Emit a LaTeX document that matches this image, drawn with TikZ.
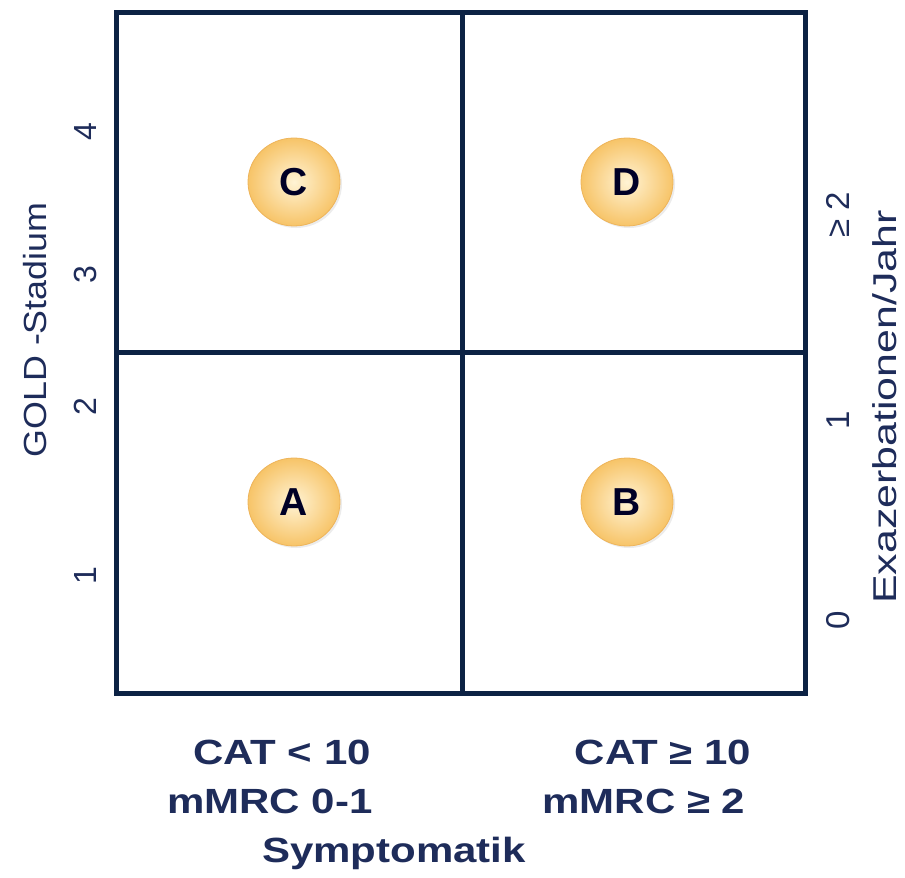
\documentclass[tikz,border=0pt]{standalone}
\usepackage{fontspec}
\setmainfont{Liberation Sans}
\usepackage{tikz}
\usetikzlibrary{positioning,shapes.geometric,shadows}

\definecolor{gridnavy}{RGB}{12,34,68}
\definecolor{labelnavy}{RGB}{30,44,90}
\definecolor{ballin}{RGB}{255,243,212}
\definecolor{ballout}{RGB}{247,196,104}
\definecolor{ballrim}{RGB}{238,180,90}

\tikzset{
  grid line/.style={draw=gridnavy, line width=5pt},
  group ball/.style={ellipse, minimum width=92pt, minimum height=88pt,
    inner color=ballin, outer color=ballout, draw=ballrim, line width=0.8pt,
    drop shadow={opacity=0.15, shadow xshift=2pt, shadow yshift=-2pt},
    font=\fontsize{39}{39}\selectfont\bfseries, text=black!85!blue},
  axis text/.style={text=labelnavy, font=\fontsize{32}{32}\selectfont},
  sym text/.style={text=labelnavy, font=\fontsize{35}{35}\selectfont\bfseries, xscale=1.2},
}

\begin{document}
\begin{tikzpicture}[x=1pt, y=-1pt]

    \useasboundingbox (0,0) rectangle (905,878);

    % the four fields
    \coordinate (nw) at (116,12);
    \coordinate (se) at (805,693);
    \draw[grid line] (nw) rectangle (se);
    \draw[grid line] (462,12) coordinate (vtop) -- (462,693) coordinate (vbot);
    \draw[grid line] (116,352) coordinate (hleft) -- (805,352) coordinate (hright);

    % groups
    \node[group ball] (grpC) at (294,182) {C};
    \node[group ball] (grpD) at (627,182) {D};
    \node[group ball] (grpA) at (294,502) {A};
    \node[group ball] (grpB) at (627,502) {B};

    % left axis: GOLD stage
    \node[axis text, rotate=90, xscale=1.12] (goldlab) at (35,330) {GOLD -Stadium};
    \node[axis text, rotate=90] (gold4) at (85,132) {4};
    \node[axis text, rotate=90] (gold3) at (85,275) {3};
    \node[axis text, rotate=90] (gold2) at (85,407) {2};
    \node[axis text, rotate=90] (gold1) at (85,576) {1};

    % right axis: exacerbations
    \node[axis text, rotate=90, xscale=1.3, font=\fontsize{33}{33}\selectfont] (exalab) at (885,407) {Exazerbationen/Jahr};
    \node[axis text, rotate=90, font=\fontsize{33}{33}\selectfont] (exa2) at (838,215) {≥ 2};
    \node[axis text, rotate=90, font=\fontsize{33}{33}\selectfont] (exa1) at (838,420) {1};
    \node[axis text, rotate=90, font=\fontsize{33}{33}\selectfont] (exa0) at (838,620) {0};

    % bottom: symptoms
    \node[sym text] (catlow) at (282,752) {CAT < 10};
    \node[sym text] (mrclow) at (270,801) {mMRC 0-1};
    \node[sym text] (cathigh) at (663,752) {CAT ≥ 10};
    \node[sym text] (mrchigh) at (644,801) {mMRC ≥ 2};
    \node[sym text] (symlab) at (394,853) {Symptomatik};

\end{tikzpicture}
\end{document}
